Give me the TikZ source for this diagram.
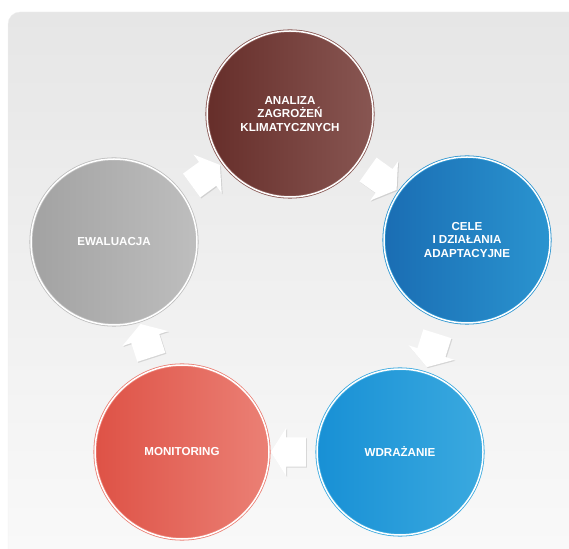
\documentclass[tikz,border=0pt]{standalone}
\usepackage{fontspec}
\setmainfont{Liberation Sans}
\usetikzlibrary{shapes.arrows, shadows, positioning, calc}

\definecolor{bgtop}{HTML}{E6E6E6}
\definecolor{bgbot}{HTML}{FAFAFA}
\definecolor{anaL}{HTML}{662E2A}
\definecolor{anaR}{HTML}{885652}
\definecolor{celeL}{HTML}{1A6DB3}
\definecolor{celeR}{HTML}{2A94D0}
\definecolor{wdrL}{HTML}{1890D5}
\definecolor{wdrR}{HTML}{3AA9DF}
\definecolor{monL}{HTML}{DE5246}
\definecolor{monR}{HTML}{EB8075}
\definecolor{ewaL}{HTML}{A2A2A2}
\definecolor{ewaR}{HTML}{BEBEBE}

\begin{document}
\begin{tikzpicture}[x=1pt, y=1pt,
                    phase/.style={circle, minimum size=166pt, inner sep=0pt,
                      text=white, align=center,
                      font=\bfseries\fontsize{11.6}{13.6}\selectfont,
                      line width=0.8pt, double=white, double distance=1.5pt},
                    flow/.style={single arrow, fill=white, sloped, allow upside down,
                      minimum height=35pt, minimum width=48pt, inner xsep=0pt, inner ysep=14pt,
                      single arrow head extend=9pt, single arrow tip angle=115,
                      drop shadow={opacity=0.25, shadow xshift=1pt, shadow yshift=-1pt}}]

  \path[use as bounding box] (0,0) rectangle (569,548);
  \shade[top color=bgtop, bottom color=bgbot, draw=gray!12, rounded corners=12pt]
    (8,536) rectangle (600,-30);

  \node[phase, left color=anaL, right color=anaR, draw=anaR] at (290,434) (ana)
    {ANALIZA\\ZAGROŻEŃ\\KLIMATYCZNYCH};
  \node[phase, left color=celeL, right color=celeR, draw=celeR] at (467,308) (cele)
    {CELE\\I DZIAŁANIA\\ADAPTACYJNE};
  \node[phase, left color=wdrL, right color=wdrR, draw=wdrR] at (400,96) (wdr)
    {WDRAŻANIE};
  \node[phase, minimum size=174pt, left color=monL, right color=monR, draw=monR] at (182,96) (mon)
    {MONITORING};
  \node[phase, left color=ewaL, right color=ewaR, draw=ewaR] at (114,306) (ewa)
    {EWALUACJA};

  \path (ana)  -- node[flow] (f1) {} (cele)
        (cele) -- node[flow] (f2) {} (wdr)
        (wdr)  -- node[flow] (f3) {} (mon)
        (mon)  -- node[flow] (f4) {} (ewa)
        (ewa)  -- node[flow] (f5) {} (ana);

\end{tikzpicture}
\end{document}
